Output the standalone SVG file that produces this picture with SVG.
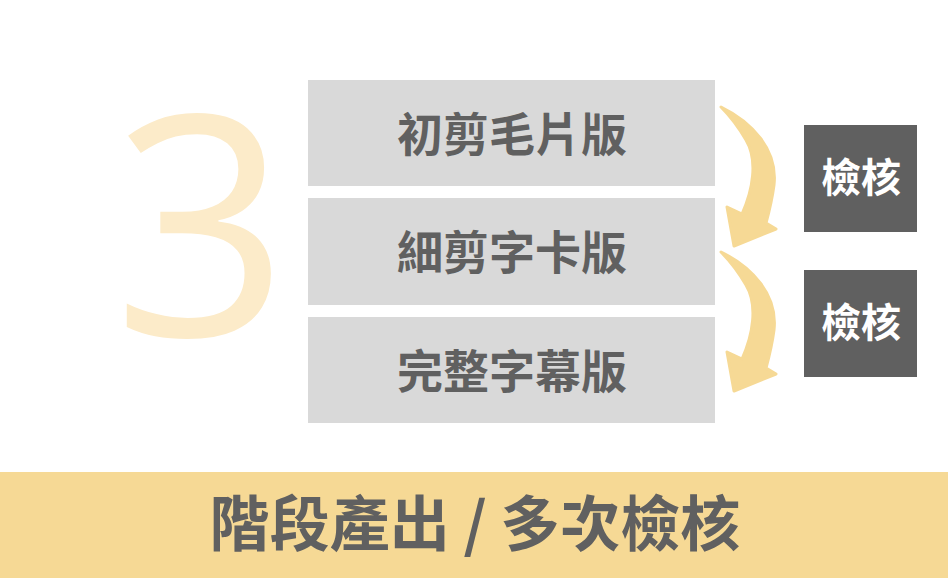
<svg xmlns="http://www.w3.org/2000/svg" width="948" height="579" viewBox="0 0 948 579">
<style>
.step{fill:#D9D9D9}
.stepT{font-family:"Noto Sans CJK TC","Noto Sans CJK SC",sans-serif;font-weight:700;font-size:46px;fill:#606060;text-anchor:middle}
.chk{fill:#606060}
.chkT{font-family:"Noto Sans CJK TC","Noto Sans CJK SC",sans-serif;font-weight:700;font-size:40px;fill:#FFFFFF;text-anchor:middle}
.arrow{fill:#F6D995;stroke:#F6D995;stroke-width:3;stroke-linejoin:round}
</style>
<defs>
<path id="arr" class="arrow" d="M721,107 C752,122 778,150 774,185 C772,200 769,212 766,223 L776,229 L734,246 L727,207 L742,214 C753,190 758,160 746,140 C739,128 731,117 721,107 Z"/>
</defs>
<rect width="948" height="579" fill="#FFFFFF"/>
<g id="bignum"><text x="201" y="336" font-family="'Open Sans',sans-serif" font-weight="400" font-size="308" fill="#FCEBC9" text-anchor="middle">3</text></g>
<g id="step1"><rect class="step" x="308" y="80" width="407" height="106"/><text class="stepT" x="512" y="151">初剪毛片版</text></g>
<g id="step2"><rect class="step" x="308" y="198" width="407" height="107"/><text class="stepT" x="512" y="269">細剪字卡版</text></g>
<g id="step3"><rect class="step" x="308" y="317" width="407" height="106"/><text class="stepT" x="512" y="388">完整字幕版</text></g>
<g id="check1"><rect class="chk" x="804" y="125" width="113" height="107"/><text class="chkT" x="861" y="192">檢核</text></g>
<g id="check2"><rect class="chk" x="804" y="270" width="113" height="107"/><text class="chkT" x="861" y="337">檢核</text></g>
<g id="connectors">
<use href="#arr"/>
<use href="#arr" transform="translate(0,145)"/>
</g>
<g id="banner"><rect x="0" y="472" width="948" height="106" fill="#F6D995"/><text x="475" y="546" font-family="'Noto Sans CJK TC','Noto Sans CJK SC',sans-serif" font-weight="700" font-size="60" fill="#606060" text-anchor="middle">階段產出 / 多次檢核</text></g>
</svg>
